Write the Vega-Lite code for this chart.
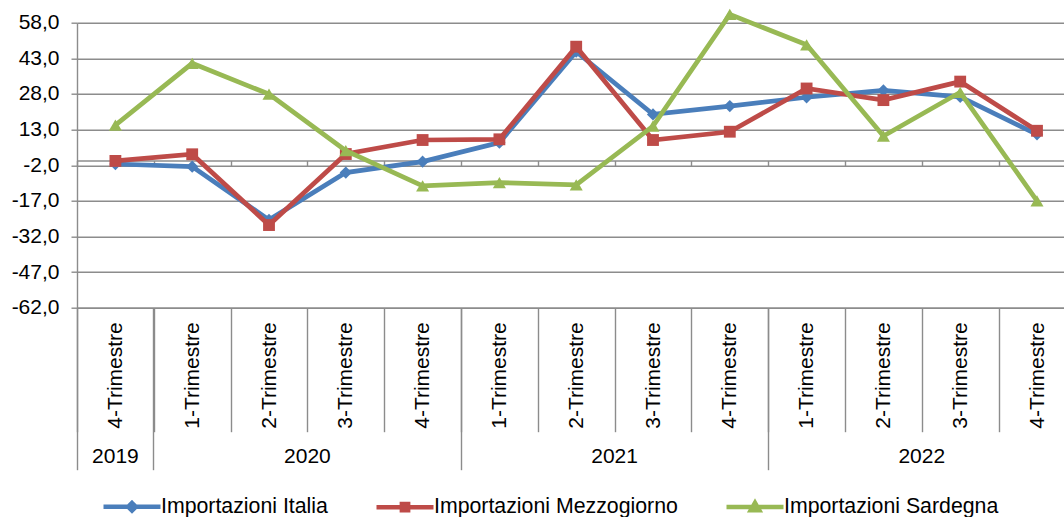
{
  "$schema": "https://vega.github.io/schema/vega-lite/v6.json",
  "width": 987,
  "height": 285,
  "autosize": {"type": "none"},
  "padding": {"left": 77, "top": 22.7, "right": 0, "bottom": 209.3},
  "background": "white",
  "config": {
    "view": {"stroke": null},
    "font": "Liberation Sans",
    "axis": {
      "labelFont": "Liberation Sans",
      "labelFontSize": 21,
      "labelColor": "#000000",
      "domainColor": "#8c8c8c",
      "tickColor": "#8c8c8c",
      "gridColor": "#8c8c8c",
      "domainWidth": 1.4,
      "tickWidth": 1.4,
      "gridWidth": 1.4,
      "title": null
    }
  },
  "data": {
    "values": [
      {"key": "2019-4", "serie": "Importazioni Italia", "value": -1.5},
      {"key": "2020-1", "serie": "Importazioni Italia", "value": -2.6},
      {"key": "2020-2", "serie": "Importazioni Italia", "value": -25.0},
      {"key": "2020-3", "serie": "Importazioni Italia", "value": -5.1},
      {"key": "2020-4", "serie": "Importazioni Italia", "value": -0.5},
      {"key": "2021-1", "serie": "Importazioni Italia", "value": 7.5},
      {"key": "2021-2", "serie": "Importazioni Italia", "value": 45.8},
      {"key": "2021-3", "serie": "Importazioni Italia", "value": 19.4},
      {"key": "2021-4", "serie": "Importazioni Italia", "value": 22.9},
      {"key": "2022-1", "serie": "Importazioni Italia", "value": 26.6},
      {"key": "2022-2", "serie": "Importazioni Italia", "value": 29.5},
      {"key": "2022-3", "serie": "Importazioni Italia", "value": 26.8},
      {"key": "2022-4", "serie": "Importazioni Italia", "value": 11.0},
      {"key": "2019-4", "serie": "Importazioni Mezzogiorno", "value": -0.2},
      {"key": "2020-1", "serie": "Importazioni Mezzogiorno", "value": 2.6},
      {"key": "2020-2", "serie": "Importazioni Mezzogiorno", "value": -27.2},
      {"key": "2020-3", "serie": "Importazioni Mezzogiorno", "value": 2.7},
      {"key": "2020-4", "serie": "Importazioni Mezzogiorno", "value": 8.6},
      {"key": "2021-1", "serie": "Importazioni Mezzogiorno", "value": 8.9},
      {"key": "2021-2", "serie": "Importazioni Mezzogiorno", "value": 47.9},
      {"key": "2021-3", "serie": "Importazioni Mezzogiorno", "value": 8.6},
      {"key": "2021-4", "serie": "Importazioni Mezzogiorno", "value": 12.1},
      {"key": "2022-1", "serie": "Importazioni Mezzogiorno", "value": 30.3},
      {"key": "2022-2", "serie": "Importazioni Mezzogiorno", "value": 25.4},
      {"key": "2022-3", "serie": "Importazioni Mezzogiorno", "value": 33.2},
      {"key": "2022-4", "serie": "Importazioni Mezzogiorno", "value": 12.5},
      {"key": "2019-4", "serie": "Importazioni Sardegna", "value": 14.9},
      {"key": "2020-1", "serie": "Importazioni Sardegna", "value": 40.9},
      {"key": "2020-2", "serie": "Importazioni Sardegna", "value": 27.9},
      {"key": "2020-3", "serie": "Importazioni Sardegna", "value": 4.1},
      {"key": "2020-4", "serie": "Importazioni Sardegna", "value": -10.7},
      {"key": "2021-1", "serie": "Importazioni Sardegna", "value": -9.3},
      {"key": "2021-2", "serie": "Importazioni Sardegna", "value": -10.3},
      {"key": "2021-3", "serie": "Importazioni Sardegna", "value": 14.5},
      {"key": "2021-4", "serie": "Importazioni Sardegna", "value": 61.5},
      {"key": "2022-1", "serie": "Importazioni Sardegna", "value": 48.7},
      {"key": "2022-2", "serie": "Importazioni Sardegna", "value": 10.3},
      {"key": "2022-3", "serie": "Importazioni Sardegna", "value": 28.7},
      {"key": "2022-4", "serie": "Importazioni Sardegna", "value": -17.0}
    ]
  },
  "encoding": {
    "y": {
      "field": "value",
      "type": "quantitative",
      "scale": {"domain": [-62, 58], "nice": false, "zero": false},
      "axis": {
        "values": [-62, -47, -32, -17, -2, 13, 28, 43, 58],
        "labelExpr": "(datum.value < 0 ? '-' : '') + replace(format(abs(datum.value), '.1f'), '.', ',')",
        "tickSize": 6,
        "labelPadding": 12,
        "grid": true
      }
    },
    "color": {
      "field": "serie",
      "type": "nominal",
      "scale": {
        "domain": ["Importazioni Italia", "Importazioni Mezzogiorno", "Importazioni Sardegna"],
        "range": ["#4A7EBB", "#BE4B48", "#98B954"]
      },
      "legend": {
        "orient": "none",
        "direction": "horizontal",
        "legendX": 24,
        "legendY": 472,
        "title": null,
        "labelFont": "Liberation Sans",
        "labelFontSize": 21.3,
        "labelColor": "#000000",
        "labelLimit": 0,
        "symbolSize": 361,
        "symbolStrokeWidth": 4.5,
        "symbolOffset": 19,
        "labelOffset": 17,
        "columnPadding": 39,
        "encode": {
          "symbols": {
            "update": {
              "shape": {"signal": "datum.value === 'Importazioni Italia' ? 'M-3,0L3,0M0,-0.4L0.4,0L0,0.4L-0.4,0Z' : (datum.value === 'Importazioni Mezzogiorno' ? 'M-3,0L3,0M-0.33,-0.33L0.33,-0.33L0.33,0.33L-0.33,0.33Z' : 'M-3,0L3,0M0,-0.45L0.45,0.35L-0.45,0.35Z')"},
              "fill": {"scale": "color", "field": "value"},
              "stroke": {"scale": "color", "field": "value"},
              "strokeWidth": {"value": 4.5}
            }
          }
        }
      }
    }
  },
  "layer": [
    {
      "transform": [{"filter": "datum.serie === 'Importazioni Italia'"}],
      "mark": {"type": "line", "strokeWidth": 4.7, "point": {"filled": true, "shape": "diamond", "size": 150, "opacity": 1}},
      "encoding": {
        "x": {
          "field": "key",
          "type": "nominal",
          "sort": null,
          "scale": {"type": "band", "range": [0, 998.4], "paddingInner": 0, "paddingOuter": 0},
          "axis": {
            "orient": "bottom",
            "labelExpr": "length(datum.label) == 6 ? substring(datum.label, 5, 6) + '-Trimestre' : ''",
            "labelAngle": 270,
            "labelAlign": "right",
            "labelBaseline": "middle",
            "labelPadding": -110,
            "tickBand": "extent",
            "tickSize": 124,
            "labelOverlap": false,
            "labelFlush": false,
            "grid": false
          }
        }
      }
    },
    {
      "transform": [{"filter": "datum.serie === 'Importazioni Mezzogiorno'"}],
      "mark": {"type": "line", "strokeWidth": 4.7, "point": {"filled": true, "shape": "square", "size": 140, "opacity": 1}},
      "encoding": {
        "x": {
          "field": "key",
          "type": "nominal",
          "sort": null,
          "axis": {
            "orient": "bottom",
            "values": ["2019-4", "2020-1", "2021-1", "2022-1"],
            "bandPosition": 0,
            "domain": false,
            "grid": false,
            "tickSize": 162,
            "labelExpr": "substring(datum.label, 0, 4)",
            "labelAngle": 0,
            "labelAlign": "center",
            "labelBaseline": "middle",
            "labelPadding": -13,
            "labelOffset": {"condition": {"test": "datum.value === '2019-4'", "value": 0}, "value": 115.2},
            "labelOverlap": false,
            "labelFlush": false
          }
        }
      }
    },
    {
      "transform": [{"filter": "datum.serie === 'Importazioni Sardegna'"}],
      "mark": {"type": "line", "strokeWidth": 4.7, "point": {"filled": true, "shape": "triangle-up", "size": 170, "opacity": 1}},
      "encoding": {
        "x": {
          "field": "key",
          "type": "nominal",
          "sort": null,
          "axis": {
            "orient": "bottom",
            "offset": -147.2,
            "labels": false,
            "grid": false,
            "tickBand": "extent",
            "tickSize": 5
          }
        }
      }
    }
  ],
  "resolve": {"axis": {"x": "independent"}}
}
